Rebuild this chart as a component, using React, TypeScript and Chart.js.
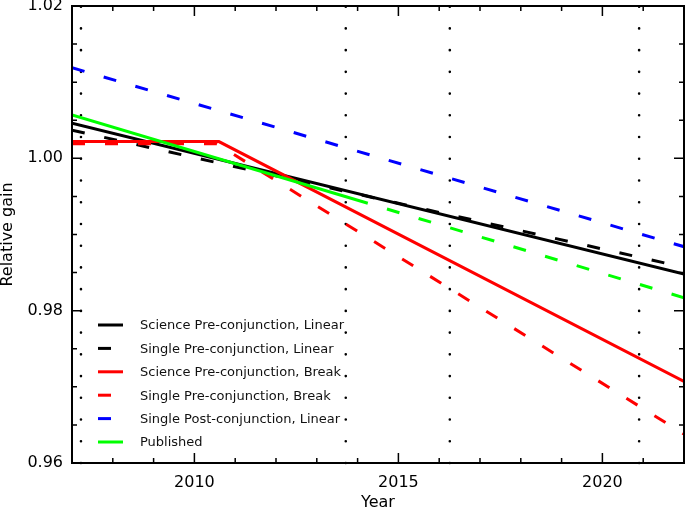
import React, { useEffect, useRef } from "react";
import { Chart, registerables } from "chart.js";

Chart.register(...registerables);

// ---- axis ranges and ticks ----
const X_MIN = 2007;
const X_MAX = 2022;
const Y_MIN = 0.96;
const Y_MAX = 1.02;
const xMajorTicks = [2010, 2015, 2020];
const yMajorTicks = [0.96, 0.98, 1.0, 1.02];
const xMinorStep = 1;
const yMinorStep = 0.005;

// ---- series ----
const sciLinX = [2007, 2022];
const sciLinY = [1.0046, 0.9848];
const sglLinX = [2007, 2022];
const sglLinY = [1.0037, 0.9857];
const sciBrkX = [2007, 2010.6, 2022];
const sciBrkY = [1.0022, 1.0022, 0.9707];
const sglBrkX = [2007, 2010.55, 2022];
const sglBrkY = [1.0019, 1.0019, 0.9638];
const sglPostX = [2007, 2022];
const sglPostY = [1.0119, 0.9884];
const pubSolidX = [2007, 2014.25];
const pubSolidY = [1.0057, 0.9941];
const pubDashX = [2014.25, 2022];
const pubDashY = [0.9941, 0.9817];
const eventYears = [2007.22, 2013.71, 2016.26, 2020.9];

const legendLabels = [
  "Science Pre-conjunction, Linear",
  "Single Pre-conjunction, Linear",
  "Science Pre-conjunction, Break",
  "Single Pre-conjunction, Break",
  "Single Post-conjunction, Linear",
  "Published",
];

const FONT = "'DejaVu Sans', 'Liberation Sans', sans-serif";
const DASH = [13, 20];

const pts = (xs: number[], ys: number[]) => xs.map((x, i) => ({ x, y: ys[i] }));

const lineDs = (label: string, xs: number[], ys: number[], color: string, dashed: boolean, order: number, extra: any = {}) => ({
  label,
  data: pts(xs, ys),
  showLine: true,
  borderColor: color,
  backgroundColor: color,
  borderWidth: 3,
  borderDash: dashed ? DASH : [],
  pointRadius: 0,
  pointHoverRadius: 0,
  fill: false,
  tension: 0,
  order,
  ...extra,
});

const frameTicksPlugin = {
  id: "frameTicks",
  afterDatasetsDraw(chart: any) {
    const { ctx, chartArea: a, scales } = chart;
    const xs = scales.x;
    const ys = scales.y;
    ctx.save();
    ctx.strokeStyle = "#000";
    ctx.lineWidth = 1.5;
    ctx.beginPath();
    for (let v = X_MIN; v <= X_MAX + 1e-9; v += xMinorStep) {
      const major = Math.abs(v / 5 - Math.round(v / 5)) < 1e-6;
      const len = major ? 10 : 5;
      const px = xs.getPixelForValue(v);
      ctx.moveTo(px, a.bottom);
      ctx.lineTo(px, a.bottom - len);
      ctx.moveTo(px, a.top);
      ctx.lineTo(px, a.top + len);
    }
    const n = Math.round((Y_MAX - Y_MIN) / yMinorStep);
    for (let i = 0; i <= n; i++) {
      const v = Y_MIN + i * yMinorStep;
      const major = i % 4 === 0;
      const len = major ? 10 : 5;
      const py = ys.getPixelForValue(v);
      ctx.moveTo(a.left, py);
      ctx.lineTo(a.left + len, py);
      ctx.moveTo(a.right, py);
      ctx.lineTo(a.right - len, py);
    }
    ctx.stroke();
    ctx.lineWidth = 2;
    ctx.strokeRect(a.left, a.top, a.right - a.left, a.bottom - a.top);
    ctx.restore();
  },
  afterDraw(chart: any) {
    const { ctx } = chart;
    ctx.save();
    ctx.font = `13px ${FONT}`;
    ctx.textBaseline = "middle";
    ctx.textAlign = "left";
    legendLabels.forEach((lab, i) => {
      const ds = chart.data.datasets[i];
      const y = 325 + i * 23.4;
      ctx.strokeStyle = ds.borderColor;
      ctx.lineWidth = 3;
      ctx.setLineDash(ds.borderDash && ds.borderDash.length ? ds.borderDash : []);
      ctx.lineDashOffset = 0;
      ctx.beginPath();
      ctx.moveTo(98, y);
      ctx.lineTo(123, y);
      ctx.stroke();
      ctx.setLineDash([]);
      ctx.fillStyle = "#111";
      ctx.fillText(lab, 140, y + 1);
    });
    ctx.restore();
  },
};

export default function App() {
  const ref = useRef<HTMLCanvasElement | null>(null);
  useEffect(() => {
    document.body.style.margin = "0";
    const canvas = ref.current;
    if (!canvas) return;
    const datasets: any[] = [
      lineDs(legendLabels[0], sciLinX, sciLinY, "#000000", false, 6),
      lineDs(legendLabels[1], sglLinX, sglLinY, "#000000", true, 5),
      lineDs(legendLabels[2], sciBrkX, sciBrkY, "#ff0000", false, 4),
      lineDs(legendLabels[3], sglBrkX, sglBrkY, "#ff0000", true, 3),
      lineDs(legendLabels[4], sglPostX, sglPostY, "#0000ff", true, 2),
      lineDs(legendLabels[5], pubSolidX, pubSolidY, "#00ff00", false, 1),
      lineDs("Published (extrapolated)", pubDashX, pubDashY, "#00ff00", true, 1, { borderDashOffset: 13 }),
    ];
    eventYears.forEach((yr, i) => {
      datasets.push({
        label: `event${i}`,
        data: [
          { x: yr, y: Y_MIN },
          { x: yr, y: Y_MAX },
        ],
        showLine: true,
        borderColor: "#000",
        borderWidth: 2.6,
        borderDash: [0.01, 21.72],
        borderCapStyle: "round",
        pointRadius: 0,
        pointHoverRadius: 0,
        order: 10,
        clip: 4,
      });
    });
    const chart = new Chart(canvas, {
      type: "scatter",
      data: { datasets },
      options: {
        animation: false,
        responsive: false,
        devicePixelRatio: 1,
        layout: { padding: { left: 0, top: 6, right: 1, bottom: 0 } },
        plugins: {
          legend: { display: false },
          tooltip: { enabled: false },
        },
        scales: {
          x: {
            type: "linear",
            min: X_MIN,
            max: X_MAX,
            grid: { display: false, drawTicks: false },
            border: { display: false },
            afterBuildTicks: (s: any) => {
              s.ticks = xMajorTicks.map((v) => ({ value: v }));
            },
            afterFit: (s: any) => {
              s.height = 48;
              s.paddingLeft = 0;
              s.paddingRight = 0;
            },
            ticks: {
              autoSkip: false,
              maxRotation: 0,
              padding: 10,
              color: "#000",
              font: { family: FONT, size: 16 },
              callback: (v: any) => String(v),
            },
            title: {
              display: true,
              text: "Year",
              color: "#000",
              font: { family: FONT, size: 16, lineHeight: 1.0 },
              padding: { top: 0, bottom: 0 },
            },
          },
          y: {
            type: "linear",
            min: Y_MIN,
            max: Y_MAX,
            grid: { display: false, drawTicks: false },
            border: { display: false },
            afterBuildTicks: (s: any) => {
              s.ticks = yMajorTicks.map((v) => ({ value: v }));
            },
            afterFit: (s: any) => {
              s.width = 72;
              s.paddingTop = 0;
              s.paddingBottom = 0;
            },
            ticks: {
              autoSkip: false,
              padding: 9,
              color: "#000",
              font: { family: FONT, size: 16 },
              callback: (v: any) => Number(v).toFixed(2),
            },
            title: {
              display: true,
              text: "Relative gain",
              color: "#000",
              font: { family: FONT, size: 16, lineHeight: 1.0 },
              padding: { top: 0, bottom: 0 },
            },
          },
        },
      },
      plugins: [frameTicksPlugin],
    } as any);
    return () => chart.destroy();
  }, []);
  return (
    <div style={{ position: "fixed", left: 0, top: 0, width: 685, height: 511, background: "#fff" }}>
      <canvas ref={ref} width={685} height={511} />
    </div>
  );
}
